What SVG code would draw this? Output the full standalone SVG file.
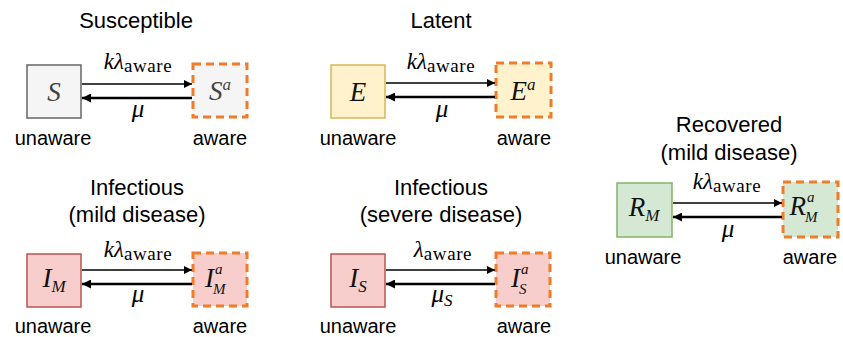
<svg xmlns="http://www.w3.org/2000/svg" width="843" height="337" viewBox="0 0 843 337">
<style>
.t{font-family:"Liberation Sans",Arial,sans-serif;font-size:22px;fill:#000;text-anchor:middle}
.l{font-family:"Liberation Sans",Arial,sans-serif;font-size:20px;fill:#000;text-anchor:middle}
.m{font-family:"Liberation Serif","Times New Roman",serif;font-style:italic;font-size:23px;fill:#000;text-anchor:middle}
.mu{font-size:25px}
.sub{font-family:"Liberation Serif","Times New Roman",serif;font-style:normal;font-size:19px;letter-spacing:0.6px}
.n{font-family:"Liberation Serif","Times New Roman",serif;font-style:italic;font-size:27px;fill:#111}
.ss{font-size:17px}
.st{font-size:15px}
.s{fill:#f5f5f5;stroke:#666;stroke-width:1.5}
.e{fill:#fff2cc;stroke:#d6b656;stroke-width:1.5}
.i{fill:#f8cecc;stroke:#b85450;stroke-width:1.5}
.r{fill:#d5e8d4;stroke:#82b366;stroke-width:1.5}
.aw{stroke:#f07b28;stroke-width:3;stroke-dasharray:8,5}
.fw{stroke:#000;stroke-width:1.6;fill:none}
.bw{stroke:#000;stroke-width:2.6;fill:none}
</style>
<defs>
<marker id="ah" viewBox="0 0 10 10" refX="10" refY="5" markerWidth="9" markerHeight="8" markerUnits="userSpaceOnUse" orient="auto"><path d="M0,0 L10,5 L0,10 z" fill="#000"/></marker>
<marker id="ahb" viewBox="0 0 10 10" refX="10" refY="5" markerWidth="10" markerHeight="9" markerUnits="userSpaceOnUse" orient="auto"><path d="M0,0 L10,5 L0,10 z" fill="#000"/></marker>
</defs>

<g id="titles">
<text class="t" x="136" y="28">Susceptible</text>
<text class="t" x="441" y="28">Latent</text>
<text class="t" x="137" y="195">Infectious</text>
<text class="t" x="137" y="222">(mild disease)</text>
<text class="t" x="441" y="195">Infectious</text>
<text class="t" x="441" y="222">(severe disease)</text>
<text class="t" x="729" y="132">Recovered</text>
<text class="t" x="729" y="160">(mild disease)</text>
</g>

<g id="node-S">
<rect class="s" x="27" y="65" width="54" height="53"/>
<text class="n" x="54" y="101" text-anchor="middle" style="fill:#444">S</text>
<text class="l" x="53" y="145">unaware</text>
</g>
<g id="node-Sa">
<rect class="s aw" x="193" y="64" width="54" height="53"/>
<text class="n" x="220" y="100" text-anchor="middle" style="fill:#444">S<tspan class="ss" dy="-10">a</tspan></text>
<text class="l" x="220" y="145">aware</text>
</g>

<g id="node-E">
<rect class="e" x="331" y="65" width="54" height="53"/>
<text class="n" x="358" y="101" text-anchor="middle">E</text>
<text class="l" x="358" y="145">unaware</text>
</g>
<g id="node-Ea">
<rect class="e aw" x="496" y="63" width="55" height="54"/>
<text class="n" x="523" y="100" text-anchor="middle">E<tspan class="ss" dy="-10">a</tspan></text>
<text class="l" x="524" y="145">aware</text>
</g>

<g id="node-IM">
<rect class="i" x="27" y="254" width="54" height="53"/>
<text class="n" x="54" y="287" text-anchor="middle">I<tspan class="ss" dy="5">M</tspan></text>
<text class="l" x="53" y="333">unaware</text>
</g>
<g id="node-IaM">
<rect class="i aw" x="193" y="253" width="54" height="53"/>
<text class="n" x="214" y="287" text-anchor="end">I</text>
<text class="n st" x="215" y="274">a</text>
<text class="n st" x="213" y="294">M</text>
<text class="l" x="220" y="333">aware</text>
</g>

<g id="node-IS">
<rect class="i" x="331" y="254" width="54" height="53"/>
<text class="n" x="358" y="287" text-anchor="middle">I<tspan class="ss" dy="5">S</tspan></text>
<text class="l" x="358" y="333">unaware</text>
</g>
<g id="node-IaS">
<rect class="i aw" x="496" y="253" width="54" height="53"/>
<text class="n" x="520" y="287" text-anchor="end">I</text>
<text class="n st" x="521" y="274">a</text>
<text class="n st" x="519" y="294">S</text>
<text class="l" x="524" y="333">aware</text>
</g>

<g id="node-RM">
<rect class="r" x="617" y="183" width="55" height="54"/>
<text class="n" x="644" y="216" text-anchor="middle">R<tspan class="ss" dy="5">M</tspan></text>
<text class="l" x="643" y="264">unaware</text>
</g>
<g id="node-RaM">
<rect class="r aw" x="783" y="182" width="55" height="55"/>
<text class="n" x="806" y="215" text-anchor="end">R</text>
<text class="n st" x="807" y="202">a</text>
<text class="n st" x="805" y="222">M</text>
<text class="l" x="810" y="264">aware</text>
</g>

<g id="connectors">
<line class="fw" x1="82" y1="84" x2="192" y2="84" marker-end="url(#ah)"/>
<line class="bw" x1="192" y1="98" x2="82" y2="98" marker-end="url(#ahb)"/>
<line class="fw" x1="386" y1="83" x2="495" y2="83" marker-end="url(#ah)"/>
<line class="bw" x1="495" y1="97" x2="386" y2="97" marker-end="url(#ahb)"/>
<line class="fw" x1="82" y1="270" x2="192" y2="270" marker-end="url(#ah)"/>
<line class="bw" x1="192" y1="284" x2="82" y2="284" marker-end="url(#ahb)"/>
<line class="fw" x1="386" y1="270" x2="495" y2="270" marker-end="url(#ah)"/>
<line class="bw" x1="495" y1="284" x2="386" y2="284" marker-end="url(#ahb)"/>
<line class="fw" x1="673" y1="203" x2="782" y2="203" marker-end="url(#ah)"/>
<line class="bw" x1="782" y1="217" x2="673" y2="217" marker-end="url(#ahb)"/>
<text class="m" x="138" y="69">kλ<tspan class="sub" dy="3">aware</tspan></text>
<text class="m mu" x="138" y="117">μ</text>
<text class="m" x="441" y="69">kλ<tspan class="sub" dy="3">aware</tspan></text>
<text class="m mu" x="442" y="117">μ</text>
<text class="m" x="138" y="257">kλ<tspan class="sub" dy="3">aware</tspan></text>
<text class="m mu" x="138" y="302">μ</text>
<text class="m" x="443" y="257">λ<tspan class="sub" dy="3">aware</tspan></text>
<text class="m mu" x="442" y="302">μ<tspan style="font-size:17px" dy="4">S</tspan></text>
<text class="m" x="727" y="189">kλ<tspan class="sub" dy="3">aware</tspan></text>
<text class="m mu" x="728" y="237">μ</text>
</g>
</svg>
